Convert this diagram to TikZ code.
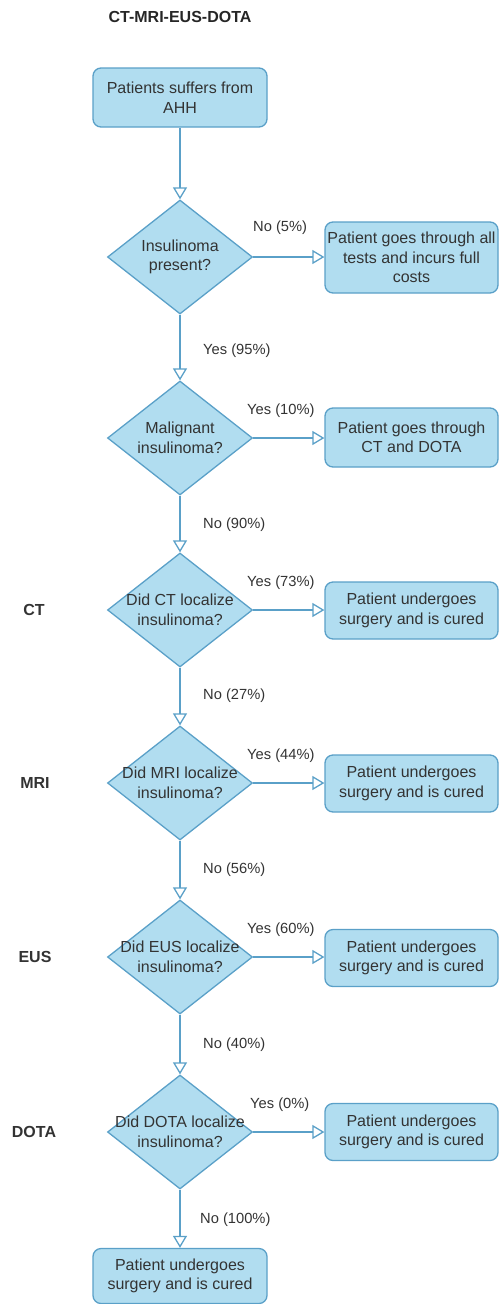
\documentclass[tikz,border=0pt]{standalone}
\usepackage{fontspec}
\setmainfont{Liberation Sans}
\usetikzlibrary{shapes.geometric,arrows.meta}
\definecolor{fillb}{HTML}{B1DDF0}
\definecolor{strokeb}{HTML}{5AA0C8}
\definecolor{txt}{HTML}{333333}
\begin{document}
\begin{tikzpicture}[x=1pt,y=-1pt,
 box/.style={draw=strokeb, fill=fillb, line width=1.3pt, rounded corners=8pt, minimum width=173pt, inner sep=0pt, align=center, text=txt, font=\fontsize{16}{19.5}\selectfont},
 dia/.style={diamond, draw=strokeb, fill=fillb, line width=1.3pt, minimum width=145pt, minimum height=114pt, inner sep=0pt,
   label={[align=center, text=txt, font=\fontsize{16}{19.5}\selectfont]center:#1}},
 elab/.style={anchor=west, inner sep=0pt, text=txt, font=\fontsize{14.7}{17}\selectfont},
 side/.style={inner sep=0pt, text=txt, font=\bfseries\fontsize{16}{19}\selectfont},
 conn/.style={draw=strokeb, line width=1.3pt, -{Triangle[length=12pt,width=14pt,fill=white]}}]
\useasboundingbox (0,0) rectangle (499,1304);

\node[inner sep=0pt, text=black!85, font=\bfseries\fontsize{16}{19}\selectfont] (title) at (180,17) {CT-MRI-EUS-DOTA};

\node[box, minimum width=174pt, minimum height=59pt] (start) at (180,97.5) {Patients suffers from\\AHH};

\node[dia={Insulinoma\\present?}] (d1) at (180,257) {};
\node[dia={Malignant\\insulinoma?}] (d2) at (180,438) {};
\node[dia={Did CT localize\\insulinoma?}] (d3) at (180,610) {};
\node[dia={Did MRI localize\\insulinoma?}] (d4) at (180,783) {};
\node[dia={Did EUS localize\\insulinoma?}] (d5) at (180,957) {};
\node[dia={Did DOTA localize\\insulinoma?}] (d6) at (180,1132) {};

\node[box, minimum height=71pt] (r1) at (411.5,257.5) {Patient goes through all\\tests and incurs full\\costs};
\node[box, minimum height=59pt] (r2) at (411.5,437.5) {Patient goes through\\CT and DOTA};
\node[box, minimum height=57pt] (r3) at (411.5,610.5) {Patient undergoes\\surgery and is cured};
\node[box, minimum height=57pt] (r4) at (411.5,783.5) {Patient undergoes\\surgery and is cured};
\node[box, minimum height=57pt] (r5) at (411.5,958) {Patient undergoes\\surgery and is cured};
\node[box, minimum height=57pt] (r6) at (411.5,1132) {Patient undergoes\\surgery and is cured};
\node[box, minimum width=174pt, minimum height=55pt] (fin) at (180,1276) {Patient undergoes\\surgery and is cured};

\node[side] (sct) at (34,610) {CT};
\node[side] (smri) at (35,783) {MRI};
\node[side] (seus) at (35,957) {EUS};
\node[side] (sdota) at (34,1132) {DOTA};

\draw[conn] (start.south) -- (d1.north);
\draw[conn] (d1.east) -- (d1.east -| r1.west);
\draw[conn] (d1.south) -- (d2.north);
\draw[conn] (d2.east) -- (d2.east -| r2.west);
\draw[conn] (d2.south) -- (d3.north);
\draw[conn] (d3.east) -- (d3.east -| r3.west);
\draw[conn] (d3.south) -- (d4.north);
\draw[conn] (d4.east) -- (d4.east -| r4.west);
\draw[conn] (d4.south) -- (d5.north);
\draw[conn] (d5.east) -- (d5.east -| r5.west);
\draw[conn] (d5.south) -- (d6.north);
\draw[conn] (d6.east) -- (d6.east -| r6.west);
\draw[conn] (d6.south) -- (fin.north);

\node[elab] (l1) at (253,228) {No (5\%)};
\node[elab] (l2) at (203,351) {Yes (95\%)};
\node[elab] (l3) at (247,411) {Yes (10\%)};
\node[elab] (l4) at (203,525) {No (90\%)};
\node[elab] (l5) at (247,583) {Yes (73\%)};
\node[elab] (l6) at (203,696) {No (27\%)};
\node[elab] (l7) at (247,756) {Yes (44\%)};
\node[elab] (l8) at (203,870) {No (56\%)};
\node[elab] (l9) at (247,930) {Yes (60\%)};
\node[elab] (l10) at (203,1045) {No (40\%)};
\node[elab] (l11) at (250,1105) {Yes (0\%)};
\node[elab] (l12) at (200,1220) {No (100\%)};
\end{tikzpicture}
\end{document}
